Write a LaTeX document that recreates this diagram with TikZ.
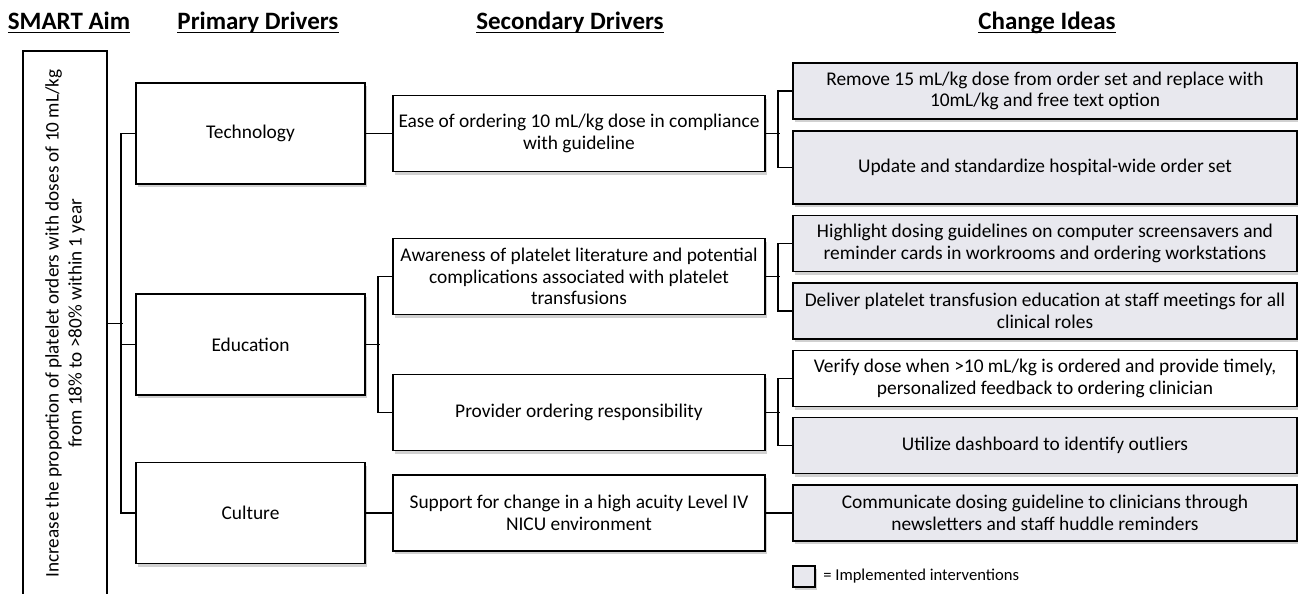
\documentclass[tikz,border=0pt]{standalone}
\usepackage{fontspec}
\setmainfont{Carlito}
\usepackage{tikz}
\usetikzlibrary{positioning,shadows}
\definecolor{ideafill}{RGB}{232,232,238}
\newcommand{\ulhead}[1]{\setbox0\hbox{#1}\rlap{\rule[-1.7pt]{\wd0}{0.8pt}}\box0}

\begin{document}
\begin{tikzpicture}[
            x=0.5pt, y=-0.5pt,
            box/.style={rectangle, draw, line width=0.9pt, fill=white, inner sep=1pt, align=center,
                font=\fontsize{9.7}{10.8}\selectfont,
                drop shadow={shadow xshift=1.2pt, shadow yshift=-1.6pt, fill=black!30, opacity=0.6}},
            primary/.style={box, minimum width=114.5pt, minimum height=50.5pt},
            secondary/.style={box, minimum width=186pt, minimum height=38pt},
            idea/.style={box, fill=ideafill, minimum width=252pt, minimum height=28pt},
            header/.style={font=\fontsize{12.5}{14}\selectfont\bfseries, anchor=base},
            link/.style={line width=0.9pt}
        ]

        \clip (0,0) rectangle (1298,594);

        % headers
        \node[header] (hAim) at (69,30) {\ulhead{SMART Aim}};
        \node[header] (hPrim) at (258,30) {\ulhead{Primary Drivers}};
        \node[header] (hSec) at (570,30) {\ulhead{Secondary Drivers}};
        \node[header] (hIdea) at (1047,30) {\ulhead{Change Ideas}};

        % aim
        \node[rectangle, draw, line width=0.9pt, rotate=90, align=center, inner sep=0pt,
              minimum width=272.5pt, minimum height=42pt, font=\fontsize{9.6}{11.4}\selectfont]
              (aim) at (65,323.5) {Increase the proportion of platelet orders with doses of 10 mL/kg\\from 18\% to >80\% within 1 year};

        % primary drivers
        \node[primary] (tech) at (250.5,133.5) {Technology};
        \node[primary] (edu) at (250.5,344.5) {Education};
        \node[primary] (cult) at (250.5,513) {Culture};

        % secondary drivers
        \node[secondary] (ease) at (579,133.5) {Ease of ordering 10 mL/kg dose in compliance\\with guideline};
        \node[secondary] (aware) at (579,276.5) {Awareness of platelet literature and potential\\complications associated with platelet\\transfusions};
        \node[secondary] (prov) at (579,412.5) {Provider ordering responsibility};
        \node[secondary] (supp) at (579,513) {Support for change in a high acuity Level IV\\NICU environment};

        % change ideas
        \node[idea] (remove) at (1045,91) {Remove 15 mL/kg dose from order set and replace with\\10mL/kg and free text option};
        \node[idea, minimum height=36.5pt] (update) at (1045,167.5) {Update and standardize hospital-wide order set};
        \node[idea] (highlight) at (1045,243.5) {Highlight dosing guidelines on computer screensavers and\\reminder cards in workrooms and ordering workstations};
        \node[idea] (deliver) at (1045,311) {Deliver platelet transfusion education at staff meetings for all\\clinical roles};
        \node[idea, fill=white] (verify) at (1045,378.5) {Verify dose when >10 mL/kg is ordered and provide timely,\\personalized feedback to ordering clinician};
        \node[idea] (utilize) at (1045,445.5) {Utilize dashboard to identify outliers};
        \node[idea] (communicate) at (1045,513) {Communicate dosing guideline to clinicians through\\newsletters and staff huddle reminders};

        % legend
        \node[box, fill=ideafill, inner sep=0pt, minimum width=11pt, minimum height=10.5pt] (legbox) at (804,576.5) {};
        \node[right=3.5pt of legbox, inner sep=0pt, font=\fontsize{8.3}{9}\selectfont] (legtext) {= Implemented interventions};

        % aim to primary
        \draw[link] (aim.south) -- ++(15,0);
        \draw[link] (tech.west) -- ++(-14,0) |- (cult.west);
        \draw[link] (edu.west) -- ++(-14,0);

        % primary to secondary
        \draw[link] (tech.east) -- (ease.west);
        \draw[link] (edu.east) -- ++(14,0);
        \draw[link] (aware.west) -- ++(-14,0) |- (prov.west);
        \draw[link] (cult.east) -- (supp.west);

        % secondary to change ideas
        \draw[link] (ease.east) -- ++(14,0);
        \draw[link] (remove.west) -- ++(-14,0) |- (update.west);
        \draw[link] (aware.east) -- ++(14,0);
        \draw[link] (highlight.west) -- ++(-14,0) |- (deliver.west);
        \draw[link] (prov.east) -- ++(14,0);
        \draw[link] (verify.west) -- ++(-14,0) |- (utilize.west);
        \draw[link] (supp.east) -- (communicate.west);

    \end{tikzpicture}
\end{document}
